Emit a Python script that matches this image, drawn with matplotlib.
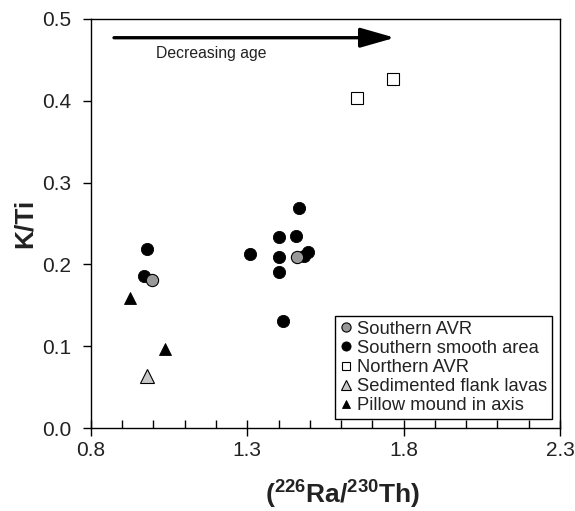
import matplotlib
matplotlib.use("Agg")
import matplotlib.pyplot as plt
from matplotlib.ticker import MultipleLocator, FixedLocator

plt.rcParams['font.family'] = ['Liberation Sans', 'DejaVu Sans']
plt.rcParams['mathtext.fontset'] = 'custom'
plt.rcParams['mathtext.rm'] = 'Liberation Sans'
plt.rcParams['mathtext.bf'] = 'Liberation Sans:bold'

# Data
smooth_x = [0.981, 0.970, 1.309, 1.400, 1.400, 1.400, 1.456, 1.464, 1.493, 1.481, 1.415]
smooth_y = [0.2185, 0.186, 0.213, 0.234, 0.209, 0.191, 0.235, 0.269, 0.2155, 0.210, 0.131]
savr_x = [0.997, 1.458]
savr_y = [0.181, 0.209]
navr_x = [1.650, 1.767]
navr_y = [0.403, 0.427]
flank_x = [0.978]
flank_y = [0.063]
pillow_x = [0.925, 1.038]
pillow_y = [0.159, 0.097]

xticks = [0.8, 1.3, 1.8, 2.3]
yticks = [0.0, 0.1, 0.2, 0.3, 0.4, 0.5]

fig = plt.figure(figsize=(5.75, 5.11), dpi=100)
ax = fig.add_axes([0.158, 0.1624, 0.816, 0.8006])

txtc = '#222222'

ax.plot(smooth_x, smooth_y, 'o', ms=8.8, mfc='black', mec='black', mew=0.6, ls='none',
        label='Southern smooth area', zorder=3)
ax.plot(savr_x, savr_y, 'o', ms=8.8, mfc='#999999', mec='black', mew=0.8, ls='none',
        label='Southern AVR', zorder=4)
ax.plot(navr_x, navr_y, 's', ms=8, mfc='white', mec='black', mew=0.8, ls='none',
        label='Northern AVR', zorder=3)
ax.plot(flank_x, flank_y, '^', ms=10, mfc='#c8c8c8', mec='black', mew=0.8, ls='none',
        label='Sedimented flank lavas', zorder=3)
ax.plot(pillow_x, pillow_y, '^', ms=8.3, mfc='black', mec='black', mew=0.6, ls='none',
        label='Pillow mound in axis', zorder=3)

ax.set_xlim(0.8, 2.3)
ax.set_ylim(0.0, 0.5)
ax.xaxis.set_major_locator(FixedLocator(xticks))
ax.xaxis.set_minor_locator(MultipleLocator(0.1))
ax.yaxis.set_major_locator(FixedLocator(yticks))
ax.set_xticklabels(['%.1f' % v for v in xticks])
ax.set_yticklabels(['%.1f' % v for v in yticks])

ax.tick_params(axis='x', which='major', direction='inout', length=12, width=1,
               labelsize=15, pad=3, colors='black', labelcolor=txtc)
ax.tick_params(axis='x', which='minor', direction='in', length=6, width=1, colors='black')
ax.tick_params(axis='y', which='major', direction='out', length=6, width=1,
               labelsize=15, pad=8, colors='black', labelcolor=txtc)
for s in ax.spines.values():
    s.set_linewidth(1.0)

ax.set_xlabel(r'$\mathbf{(^{226}Ra/^{230}Th)}$', fontsize=19, labelpad=14, color=txtc)
ax.xaxis.label.set_x(0.537)
ax.set_ylabel('K/Ti', fontsize=19, fontweight='bold', labelpad=4, color=txtc)

ax.annotate('', xy=(1.772, 0.477), xytext=(0.874, 0.477),
            arrowprops=dict(arrowstyle='-|>,head_length=1.05,head_width=0.3',
                            lw=2.4, color='black', mutation_scale=20,
                            shrinkA=0, shrinkB=0))
ax.text(1.184, 0.458, 'Decreasing age', fontsize=11.3, ha='center', va='center', color=txtc)

handles, labels = ax.get_legend_handles_labels()
order = [1, 0, 2, 3, 4]
leg = ax.legend([handles[i] for i in order], [labels[i] for i in order],
                loc='lower right', bbox_to_anchor=(0.983, 0.022), borderaxespad=0,
                fontsize=13.2, markerscale=0.75, handlelength=0.7, handletextpad=0.25,
                labelspacing=0.12, borderpad=0.25, fancybox=False, framealpha=1,
                edgecolor='black', numpoints=1)
leg.get_frame().set_linewidth(1.0)
for t in leg.get_texts():
    t.set_color(txtc)

fig.savefig('out.png', dpi=100)
